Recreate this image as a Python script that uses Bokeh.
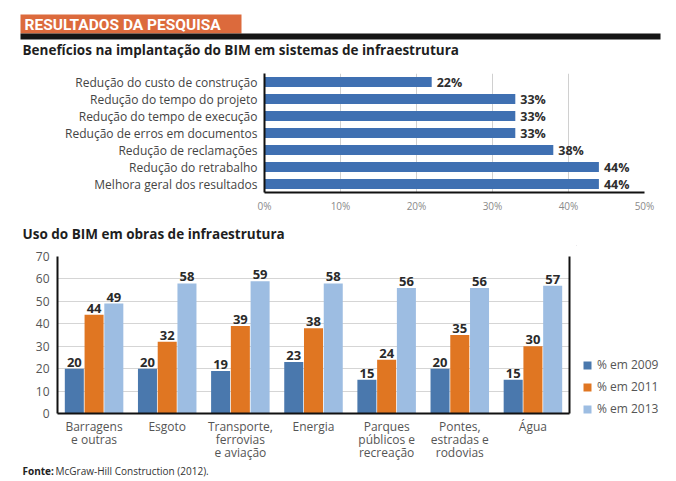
from bokeh.plotting import figure
from bokeh.layouts import column, row
from bokeh.models import (Range1d, FactorRange, ColumnDataSource, Legend, LegendItem,
                          LinearAxis, FixedTicker, PrintfTickFormatter)
from bokeh.core.properties import value
from bokeh.transform import dodge
from bokeh.embed import file_html
from bokeh.resources import INLINE

# ---------------- data ----------------
header_title = "RESULTADOS DA PESQUISA"
title1 = "Benefícios na implantação do BIM em sistemas de infraestrutura"
benefits = ["Redução do custo de construção", "Redução do tempo do projeto",
            "Redução do tempo de execução", "Redução de erros em documentos",
            "Redução de reclamações", "Redução do retrabalho",
            "Melhora geral dos resultados"]
benefit_pct = [22, 33, 33, 33, 38, 44, 44]
pct_ticks = [0, 10, 20, 30, 40, 50]

title2 = "Uso do BIM em obras de infraestrutura"
works = ["Barragens\ne outras", "Esgoto", "Transporte,\nferrovias\ne aviação", "Energia",
         "Parques\npúblicos e\nrecreação", "Pontes,\nestradas e\nrodovias", "Água"]
use_2009 = [20, 20, 19, 23, 15, 20, 15]
use_2011 = [44, 32, 39, 38, 24, 35, 30]
use_2013 = [49, 58, 59, 58, 56, 56, 57]
years = ["% em 2009", "% em 2011", "% em 2013"]
use_ticks = [0, 10, 20, 30, 40, 50, 60, 70]

source_label = "Fonte:"
source_text = "McGraw-Hill Construction (2012)."

# ---------------- style ----------------
W = 676
FONT = "Open Sans"
HFONT = "Roboto"
BLUE = "#3f70b2"
C09 = "#4a78ad"
C11 = "#e07622"
C13 = "#9dbde2"
COLORS = [C09, C11, C13]


def text_fig(h, w=W):
    p = figure(width=w, height=h, x_range=Range1d(0, w), y_range=Range1d(h, 0),
               output_backend="svg", toolbar_location=None, x_axis_type=None,
               y_axis_type=None, min_border=0, outline_line_color=None, frame_align=False)
    p.background_fill_color = None
    p.border_fill_color = None
    return p


# ---------------- header ----------------
hdr = text_fig(58)
hdr.quad(left=[20], right=[241], top=[14], bottom=[33], fill_color="#dc6a3c", line_color=None)
hdr.quad(left=[20], right=[660], top=[33], bottom=[39], fill_color="#151515", line_color=None)
hdr.text(x=[24], y=[24], text=[header_title], text_font=value(HFONT), text_font_style="bold",
         text_font_size="15.5px", text_color="white", text_baseline="middle")
hdr.text(x=[22], y=[49], text=[title1], text_font=value(FONT), text_font_style="bold",
         text_font_size="13.5px", text_color="#1e1e1e", text_baseline="middle")

# ---------------- top chart ----------------
p1 = figure(width=W, height=157, y_range=FactorRange(*benefits[::-1]), x_range=Range1d(0, 50),
            output_backend="svg", toolbar_location=None, frame_align=False,
            min_border_left=264, min_border_right=32, min_border_top=15, min_border_bottom=18)
p1.outline_line_color = None
p1.hbar(y=benefits, right=benefit_pct, height=0.6, left=0, fill_color=BLUE, line_color=None)
p1.text(x=benefit_pct, y=benefits, text=[f"{v}%" for v in benefit_pct], x_offset=5,
        text_baseline="middle", text_font=value(FONT), text_font_style="bold",
        text_font_size="12.5px", text_color="#2e2e2e")
p1.xaxis.ticker = FixedTicker(ticks=pct_ticks)
p1.xaxis.formatter = PrintfTickFormatter(format="%d%%")
for ax in (p1.xaxis, p1.yaxis):
    ax.axis_line_color = "#111111"
    ax.axis_line_width = 2
    ax.major_tick_line_color = None
    ax.minor_tick_line_color = None
    ax.major_label_text_font = FONT
p1.xaxis.major_label_text_font_size = "10px"
p1.xaxis.major_label_text_color = "#8a8a8a"
p1.xaxis.major_tick_out = 0
p1.xaxis.major_tick_in = 0
p1.xaxis.major_label_standoff = 6
p1.yaxis.major_label_text_font_size = "12px"
p1.yaxis.major_label_text_color = "#444444"
p1.yaxis.major_label_standoff = 1
p1.xgrid.grid_line_color = "#d0d0d0"
p1.xgrid.ticker = FixedTicker(ticks=pct_ticks)
p1.ygrid.grid_line_color = None

# ---------------- subtitle 2 ----------------
sub = text_fig(30)
sub.text(x=[22], y=[18], text=[title2], text_font=value(FONT), text_font_style="bold",
         text_font_size="13.5px", text_color="#1e1e1e", text_baseline="middle")

# ---------------- bottom chart ----------------
src = ColumnDataSource(dict(cat=works, y09=use_2009, y11=use_2011, y13=use_2013,
                            t09=[str(v) for v in use_2009], t11=[str(v) for v in use_2011],
                            t13=[str(v) for v in use_2013]))
P2W = 576
P2H = 220
p2 = figure(width=P2W, height=P2H, x_range=FactorRange(*works), y_range=Range1d(0, 70),
            output_backend="svg", toolbar_location=None, frame_align=False,
            min_border_left=57, min_border_right=7, min_border_top=11, min_border_bottom=52)
p2.outline_line_color = None
for off, col, txt, c in [(-0.27, "y09", "t09", C09), (0.0, "y11", "t11", C11), (0.27, "y13", "t13", C13)]:
    p2.vbar(x=dodge("cat", off, range=p2.x_range), top=col, width=0.26, source=src,
            fill_color=c, line_color=None)
    p2.text(x=dodge("cat", off, range=p2.x_range), y=col, text=txt, source=src, y_offset=-2,
            text_align="center", text_baseline="bottom", text_font=value(FONT),
            text_font_style="bold", text_font_size="13px", text_color="#2a2a2a")

p2.yaxis.ticker = FixedTicker(ticks=use_ticks)
for ax in (p2.xaxis, p2.yaxis):
    ax.axis_line_color = "#111111"
    ax.axis_line_width = 2
    ax.major_tick_line_color = None
    ax.minor_tick_line_color = None
    ax.major_tick_out = 0
    ax.major_tick_in = 0
    ax.major_label_text_font = FONT
    ax.major_label_text_font_size = "12px"
    ax.major_label_text_color = "#555555"
p2.yaxis.major_label_standoff = 8
p2.xaxis.major_label_standoff = 4
p2.xaxis.major_label_text_line_height = 0.78
p2.xgrid.grid_line_color = None
p2.ygrid.grid_line_color = "#d5d5d5"
p2.ygrid.ticker = FixedTicker(ticks=use_ticks)

rax = LinearAxis(ticker=FixedTicker(ticks=[]), axis_line_color="#111111", axis_line_width=2,
                 major_tick_line_color=None, minor_tick_line_color=None,
                 major_tick_out=0, major_tick_in=0, major_label_text_alpha=0)
p2.add_layout(rax, "right")

# legend panel to the right of the bottom chart (proxy swatches kept off-frame)
legfig = text_fig(P2H, W - P2W)
leg_renderers = [legfig.vbar(x=[-50], top=[-50], bottom=[-60], width=1, fill_color=c, line_color=None)
                 for c in COLORS]
legend = Legend(items=[LegendItem(label=years[i], renderers=[leg_renderers[i]]) for i in range(3)],
                location=(6, 48), glyph_width=10, glyph_height=10, label_height=14,
                spacing=5, padding=0, margin=0, label_standoff=5,
                label_text_font=FONT, label_text_font_size="12px", label_text_color="#555555",
                border_line_color=None, background_fill_alpha=0)
legfig.add_layout(legend, "center")

# ---------------- footer ----------------
foot = text_fig(481 - 245 - P2H)
foot.text(x=[22], y=[5], text=[source_label], text_font=value(FONT), text_font_style="bold",
          text_font_size="10px", text_color="#222222", text_baseline="middle")
foot.text(x=[55], y=[5], text=[source_text], text_font=value(FONT),
          text_font_size="10px", text_color="#333333", text_baseline="middle")

layout = column(hdr, p1, sub, row(p2, legfig, spacing=0), foot, spacing=0)
open("out.html", "w").write(file_html(layout, INLINE))
